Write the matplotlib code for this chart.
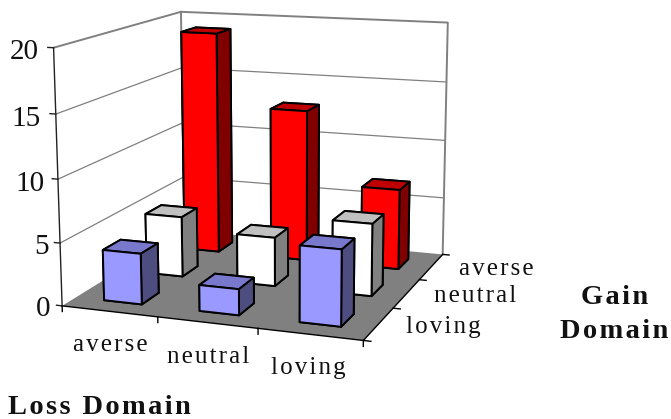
import numpy as np
import matplotlib
matplotlib.use("Agg")
import matplotlib.pyplot as plt
from mpl_toolkits.mplot3d.art3d import Poly3DCollection

plt.rcParams["font.family"] = ["Liberation Serif", "DejaVu Serif"]

W, H = 671, 419

loss_labels = ["averse", "neutral", "loving"]
gain_labels = ["loving", "neutral", "averse"]      # front to back
z_ticks = [0, 5, 10, 15, 20]

gain_loving = [4.05, 2.05, 5.9]
gain_neutral = [5.0, 4.0, 5.85]
gain_averse = [19.0, 12.85, 6.75]

# front, top and side shades; bar3d wants -z, +z, -y, +y, -x, +x
BLUE = ("#9999ff", "#7878cc", "#4d4d80")
WHITE = ("#ffffff", "#c0c0c0", "#808080")
RED = ("#ff0000", "#bf0000", "#800000")

BAR = 0.4
WALL = "#808080"
HAIR = "\u200a"


def px(x, y):
    return x / W, 1 - y / H


def spaced(s, sep=HAIR):
    return sep.join(s)


def draw_bar(ax, x, y, h, shades, z):
    front, top, side = shades
    faces = [front, top, front, front, side, side]
    ax.bar3d(x - BAR / 2, y - BAR / 2, 0, BAR, BAR, h, color=faces,
             edgecolor="black", linewidth=1.4, shade=False, zorder=z)


fig = plt.figure(figsize=(W / 100, H / 100), dpi=100)
ax = fig.add_axes([0.0254, 0.0355, 0.7123, 0.7123 * W / H], projection="3d")
ax.computed_zorder = False
ax.view_init(elev=12.22, azim=-69.71, roll=0.22)
ax.set_proj_type("persp", focal_length=0.5886)
ax.set_box_aspect((1, 0.991, 0.8293))
ax.set_axis_off()

# floor
floor = [[(0, 0, 0), (3, 0, 0), (3, 3, 0), (0, 3, 0)]]
ax.add_collection3d(Poly3DCollection(floor, facecolor="#808080", edgecolor="none", zorder=1))

# gridlines on the two walls
for t in z_ticks[1:-1]:
    ax.plot([0, 0, 3], [0, 3, 3], [t, t, t], color=WALL, lw=0.9, zorder=2)
# wall outline
ax.plot([0, 0, 3, 3], [0, 3, 3, 3], [20, 20, 20, 0], color=WALL, lw=1.4, zorder=2)
ax.plot([0, 0], [3, 3], [0, 20], color=WALL, lw=1.4, zorder=2)

# axis lines and tick marks
ax.plot([0, 0], [0, 0], [0, 20], color="#222222", lw=1.0, zorder=3)
ax.plot([0, 3, 3], [0, 0, 3], [0, 0, 0], color="black", lw=1.0, zorder=3)
for t in z_ticks:
    ax.plot([-0.06, 0], [0, 0], [t, t], color="#222222", lw=1.0, zorder=3)
for i in range(4):
    ax.plot([i, i], [0, 0], [0, -0.45], color="black", lw=1.0, zorder=3)
    ax.plot([3, 3.07], [i, i], [0, 0], color="black", lw=1.0, zorder=3)

# back row first so the nearer bars cover it
rows = [(gain_averse, RED, 2.5), (gain_neutral, WHITE, 1.5), (gain_loving, BLUE, 0.5)]
z = 10
for values, shades, y in rows:
    for i, h in enumerate(values):
        draw_bar(ax, i + 0.5, y, h, shades, z)
        z += 1

ax.set_xlim(0, 3, view_margin=0)
ax.set_ylim(0, 3, view_margin=0)
ax.set_zlim(0, 20, view_margin=0)

# value labels follow the slant of the vertical axis
z_label_pos = [(50, 316), (49, 254), (45, 191), (41, 126), (39, 59)]
for t, (x, y) in zip(z_ticks, z_label_pos):
    fig.text(*px(x, y), str(t), ha="right", va="baseline", fontsize=21, color="#111111")

# category labels
loss_pos = [(110, 351), (208, 363), (308, 374)]
gain_pos = [(443, 333), (475, 302), (496, 275)]
for s, (x, y) in zip(loss_labels, loss_pos):
    fig.text(*px(x, y), spaced(s), ha="center", va="baseline", fontsize=18, color="#111111")
for s, (x, y) in zip(gain_labels, gain_pos):
    fig.text(*px(x, y), spaced(s), ha="center", va="baseline", fontsize=18, color="#111111")

# axis titles
bold = dict(va="baseline", fontsize=20.5, fontweight="bold", color="#111111")
fig.text(*px(8, 414), spaced("Loss Domain"), ha="left", **bold)
fig.text(*px(615, 304), spaced("Gain"), ha="center", **bold)
fig.text(*px(614, 338), spaced("Domain"), ha="center", **bold)

fig.savefig("out.png", dpi=100)
